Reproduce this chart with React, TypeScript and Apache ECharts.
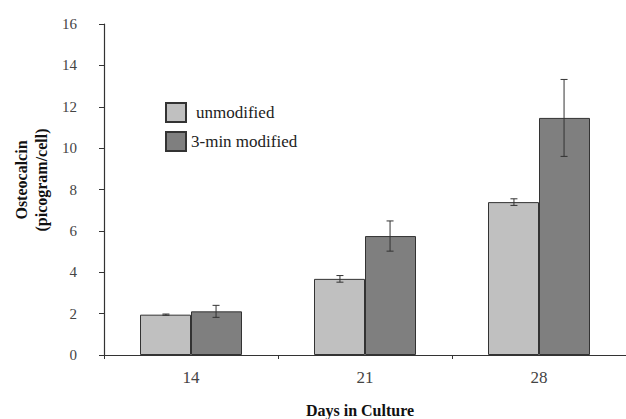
import React, { useEffect, useRef } from "react";
import * as echarts from "echarts";

const categories = ["14", "21", "28"];
const unmodified = [1.95, 3.68, 7.39];
const modified = [2.11, 5.75, 11.46];
const unmodifiedErr = [0.03, 0.16, 0.16];
const modifiedErr = [0.29, 0.73, 1.86];
const yTicks = { min: 0, max: 16, interval: 2 };

const FONT = "Liberation Serif";

function errorSeries(name: string, values: number[], errs: number[], side: number) {
  return {
    type: "custom",
    name: name + " err",
    silent: true,
    z: 10,
    renderItem: (params: any, api: any) => {
      const idx = api.value(0);
      const v = api.value(1);
      const e = api.value(2);
      const band = api.size([1, 0])[0];
      const off = band * 0.144 * side;
      const hi = api.coord([idx, v + e]);
      const lo = api.coord([idx, v - e]);
      const x = hi[0] + off;
      const cap = 3.5;
      const st = { stroke: "#333", lineWidth: 1, fill: null };
      return {
        type: "group",
        children: [
          { type: "line", shape: { x1: x, y1: hi[1], x2: x, y2: lo[1] }, style: st },
          { type: "line", shape: { x1: x - cap, y1: hi[1], x2: x + cap, y2: hi[1] }, style: st },
          { type: "line", shape: { x1: x - cap, y1: lo[1], x2: x + cap, y2: lo[1] }, style: st },
        ],
      };
    },
    data: values.map((v, i) => [i, v, errs[i]]),
  };
}

export default function App() {
  const ref = useRef<HTMLDivElement>(null);
  useEffect(() => {
    if (!ref.current) return;
    const chart = echarts.init(ref.current, null, { renderer: "svg" });
    chart.setOption({
      animation: false,
      backgroundColor: "#fff",
      textStyle: { fontFamily: FONT },
      grid: { left: 104, top: 24, width: 531, height: 331, containLabel: false },
      legend: {
        orient: "vertical",
        left: 160,
        top: 97,
        itemWidth: 20,
        itemHeight: 19,
        itemGap: 8,
        icon: "rect",
        data: ["unmodified", "3-min modified"],
        formatter: (n: string) => (n === "unmodified" ? `{a|${n}}` : `{b|${n}}`),
        textStyle: {
          fontFamily: FONT,
          fontSize: 17,
          color: "#222",
          rich: {
            a: { fontFamily: FONT, fontSize: 17, color: "#222", padding: [0, 0, 0, 5] },
            b: { fontFamily: FONT, fontSize: 17, color: "#222" },
          },
        },
      },
      xAxis: {
        type: "category",
        data: categories,
        boundaryGap: true,
        axisLine: { lineStyle: { color: "#333", width: 1.2 } },
        axisTick: { show: true, length: 4, lineStyle: { color: "#333" } },
        axisLabel: { fontFamily: FONT, fontSize: 17, color: "#444", margin: 14 },
      },
      yAxis: {
        type: "value",
        min: yTicks.min,
        max: yTicks.max,
        interval: yTicks.interval,
        splitLine: { show: false },
        axisLine: { show: true, lineStyle: { color: "#333", width: 1.2 } },
        axisTick: { show: true, length: 5, lineStyle: { color: "#333" } },
        axisLabel: { fontFamily: FONT, fontSize: 15, color: "#444", margin: 27 },
      },
      series: [
        {
          type: "bar",
          name: "unmodified",
          data: unmodified,
          barWidth: 51,
          barGap: "0%",
          itemStyle: { color: "#c0c0c0", borderColor: "#333", borderWidth: 1 },
        },
        {
          type: "bar",
          name: "3-min modified",
          data: modified,
          barWidth: 51,
          barGap: "0%",
          itemStyle: { color: "#7f7f7f", borderColor: "#333", borderWidth: 1 },
        },
        errorSeries("unmodified", unmodified, unmodifiedErr, -1),
        errorSeries("3-min modified", modified, modifiedErr, 1),
      ],
      graphic: [
        {
          type: "text",
          x: 31,
          y: 180,
          rotation: Math.PI / 2,
          style: {
            text: "Osteocalcin\n(picogram/cell)",
            font: `bold 16px ${FONT}`,
            fill: "#111",
            align: "center",
            verticalAlign: "middle",
            lineHeight: 20,
          },
        },
        {
          type: "text",
          x: 360,
          y: 410,
          style: {
            text: "Days in Culture",
            font: `bold 16px ${FONT}`,
            fill: "#111",
            align: "center",
            verticalAlign: "middle",
          },
        },
      ],
    });
    return () => chart.dispose();
  }, []);
  return <div ref={ref} style={{ width: 626, height: 419, position: "absolute", left: 0, top: 0 }} />;
}
